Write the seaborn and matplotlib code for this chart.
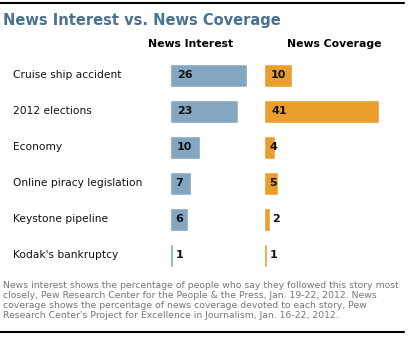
import matplotlib
matplotlib.use("Agg")
import matplotlib.pyplot as plt
from matplotlib.lines import Line2D
import seaborn as sns
import pandas as pd

categories = ["Cruise ship accident", "2012 elections", "Economy",
              "Online piracy legislation", "Keystone pipeline", "Kodak's bankruptcy"]
news_interest = [26, 23, 10, 7, 6, 1]
news_coverage = [10, 41, 4, 5, 2, 1]

title = "News Interest vs. News Coverage"
header_interest = "News Interest"
header_coverage = "News Coverage"
footnote = ["News interest shows the percentage of people who say they followed this story most",
            "closely, Pew Research Center for the People & the Press, Jan. 19-22, 2012. News",
            "coverage shows the percentage of news coverage devoted to each story, Pew",
            "Research Center's Project for Excellence in Journalism, Jan. 16-22, 2012."]

BLUE = "#85a6c0"
ORANGE = "#e99e2e"
TITLE_C = "#4a7191"

W, H = 408, 337
fig = plt.figure(figsize=(W / 100, H / 100), dpi=100)
sns.set_style("white")
plt.rcParams['font.family'] = ['DejaVu Sans']


def px_axes(x0, y0, x1, y1):
    return fig.add_axes([x0 / W, 1 - y1 / H, (x1 - x0) / W, (y1 - y0) / H])


df = pd.DataFrame({"cat": categories, "interest": news_interest, "coverage": news_coverage})

top, bottom = 57.5, 273.0
ax1 = px_axes(170, top, 258, bottom)
ax2 = px_axes(264, top, 392, bottom)

sns.barplot(data=df, x="interest", y="cat", ax=ax1, color=BLUE, width=0.64,
            saturation=1, orient="h")
sns.barplot(data=df, x="coverage", y="cat", ax=ax2, color=ORANGE, width=0.64,
            saturation=1, orient="h")

ax1.set_xlim(0, 88 / 2.96)
ax2.set_xlim(0, 128 / 2.8)

for ax, vals in ((ax1, news_interest), (ax2, news_coverage)):
    ax.set_ylim(5.5, -0.5)
    ax.axis("off")
    for i, v in enumerate(vals):
        if v <= 2:
            ax.annotate(str(v), (v, i), xytext=(3, 0), textcoords="offset pixels",
                        ha="left", va="center", fontsize=8, fontweight="bold", color="#111111")
        else:
            off = 7 if v >= 10 else 5
            ax.annotate(str(v), (0, i), xytext=(off, 0), textcoords="offset pixels",
                        ha="left", va="center", fontsize=8, fontweight="bold", color="#111111")

row_h = (bottom - top) / 6
for i, c in enumerate(categories):
    y = top + row_h * (i + 0.5)
    fig.text(13 / W, 1 - y / H, c, ha="left", va="center", fontsize=7.7, color="#111111")

fig.text(3 / W, 1 - 20 / H, title, ha="left", va="center", fontsize=10.5,
         fontweight="bold", color=TITLE_C)
fig.text(191 / W, 1 - 44 / H, header_interest, ha="center", va="center", fontsize=7.8,
         fontweight="bold", color="#000000")
fig.text(334 / W, 1 - 44 / H, header_coverage, ha="center", va="center", fontsize=7.8,
         fontweight="bold", color="#000000")

for i, line in enumerate(footnote):
    fig.text(3 / W, 1 - (286 + 9.7 * i) / H, line, ha="left", va="center",
             fontsize=6.65, color="#767676")

fig.add_artist(Line2D([0, 404 / W], [1 - 3 / H, 1 - 3 / H], color="black", lw=1.5))
fig.add_artist(Line2D([0, 404 / W], [1 - 332 / H, 1 - 332 / H], color="black", lw=1.5))

fig.savefig("out.png", dpi=100)
